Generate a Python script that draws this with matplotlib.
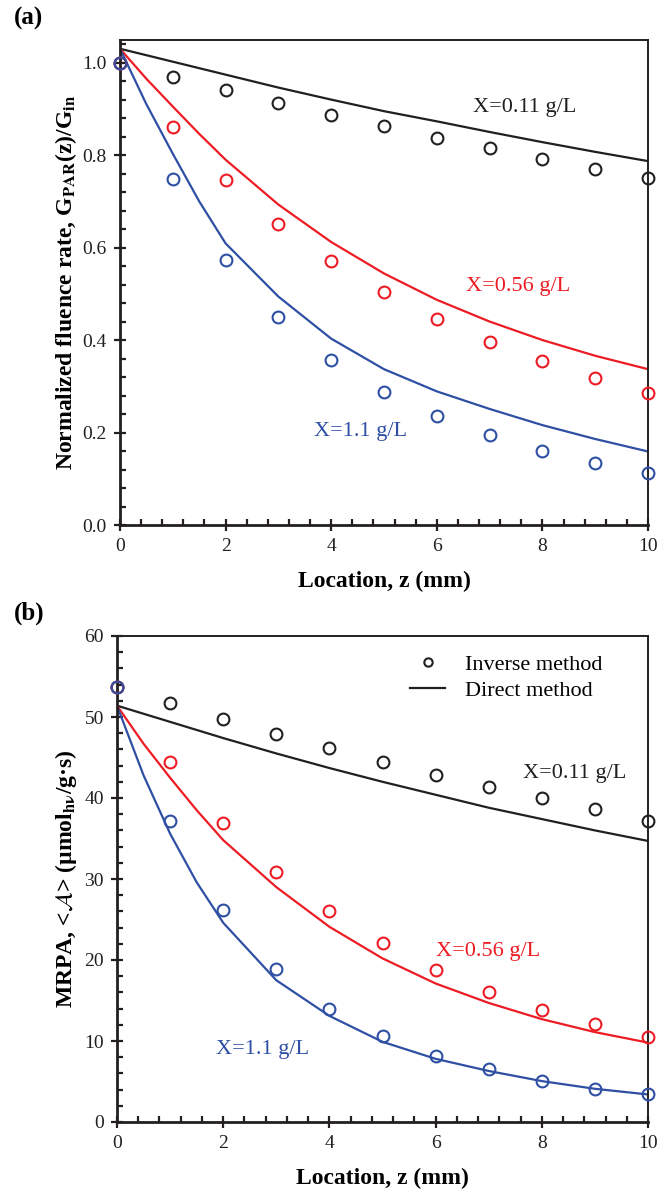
import numpy as np
import matplotlib
matplotlib.use('Agg')
import matplotlib.pyplot as plt
from matplotlib.ticker import MultipleLocator
from matplotlib.lines import Line2D

plt.rcParams['font.family'] = 'Liberation Serif'
plt.rcParams['mathtext.fontset'] = 'stix'

z_pts = [0, 1, 2, 3, 4, 5, 6, 7, 8, 9, 10]
z_line = [0, 0.5, 1, 1.5, 2, 3, 4, 5, 6, 7, 8, 9, 10]

# (a) normalized fluence rate
g_inv_011 = [1.0, 0.968, 0.940, 0.913, 0.887, 0.862, 0.838, 0.815, 0.792, 0.770, 0.750]
g_inv_056 = [1.0, 0.860, 0.746, 0.651, 0.571, 0.504, 0.446, 0.396, 0.354, 0.318, 0.286]
g_inv_11 = [1.0, 0.748, 0.573, 0.449, 0.357, 0.288, 0.235, 0.194, 0.161, 0.135, 0.113]
g_dir_011 = [1.03, 1.016, 1.002, 0.988, 0.974, 0.946, 0.920, 0.895, 0.873, 0.850, 0.828, 0.807, 0.787]
g_dir_056 = [1.03, 0.965, 0.905, 0.846, 0.790, 0.693, 0.612, 0.544, 0.487, 0.440, 0.400, 0.366, 0.337]
g_dir_11 = [1.03, 0.910, 0.803, 0.700, 0.609, 0.494, 0.403, 0.337, 0.289, 0.251, 0.216, 0.186, 0.159]

# (b) MRPA
a_inv_011 = [53.7, 51.7, 49.8, 47.9, 46.2, 44.5, 42.9, 41.4, 40.0, 38.6, 37.2]
a_inv_056 = [53.7, 44.4, 36.9, 30.9, 26.0, 22.1, 18.8, 16.1, 13.8, 12.1, 10.5]
a_inv_11 = [53.7, 37.1, 26.2, 18.9, 14.0, 10.6, 8.2, 6.5, 5.1, 4.1, 3.4]
a_dir_011 = [51.4, 50.4, 49.4, 48.4, 47.4, 45.5, 43.7, 42.0, 40.4, 38.8, 37.4, 36.0, 34.7]
a_dir_056 = [51.4, 46.7, 42.5, 38.5, 34.8, 29.0, 24.1, 20.2, 17.1, 14.7, 12.7, 11.1, 9.8]
a_dir_11 = [51.4, 42.8, 35.6, 29.6, 24.6, 17.5, 13.1, 9.9, 7.8, 6.3, 5.05, 4.1, 3.4]

labels = ['X=0.11 g/L', 'X=0.56 g/L', 'X=1.1 g/L']
colors = ['#231f20', '#ed1c24', '#2e4fa3']

fig = plt.figure(figsize=(6.58, 11.94), dpi=100)
ax1 = fig.add_axes([120/658, 1-525/1194, 528/658, (525-39.5)/1194])
ax2 = fig.add_axes([117/658, 1-1122/1194, 531/658, (1122-636)/1194])


def style(ax):
    ax.spines['left'].set_linewidth(2.0)
    ax.spines['bottom'].set_linewidth(2.0)
    ax.spines['top'].set_linewidth(1.4)
    ax.spines['right'].set_linewidth(1.4)
    for s in ax.spines.values():
        s.set_color('#231f20')
    ax.set_xlim(0, 10)
    ax.xaxis.set_major_locator(MultipleLocator(2))
    ax.xaxis.set_minor_locator(MultipleLocator(0.4))
    ax.tick_params(which='major', direction='inout', length=9, width=1.6,
                   labelsize=14, pad=5, colors='#231f20', labelcolor='#231f20')
    ax.tick_params(which='minor', direction='in', length=4, width=1.6, colors='#231f20')
    ax.tick_params(top=False, right=False, which='both')
    ax.set_xlabel('Location, z (mm)', fontsize=17, fontweight='bold')
    ax.xaxis.set_label_coords(0.5, -0.095)


def draw(ax, inv, dirs):
    for d, c in zip(dirs, colors):
        ax.plot(z_line, d, color=c, lw=1.6, zorder=2)
    for v, c in zip(inv, colors):
        ax.plot(z_pts, v, ls='none', marker='o', ms=8.5, mfc='none', mec=c, mew=1.5,
                clip_on=False, zorder=3)


style(ax1)
draw(ax1, [g_inv_011, g_inv_056, g_inv_11], [g_dir_011, g_dir_056, g_dir_11])
ax1.set_ylim(0, 1.05)
ax1.yaxis.set_major_locator(MultipleLocator(0.2))
ax1.yaxis.set_minor_locator(MultipleLocator(0.04))
ax1.yaxis.set_major_formatter(plt.FormatStrFormatter('%.1f'))
ax1.set_ylabel(r'Normalized fluence rate, G$_\mathbf{PAR}$(z)/G$_\mathbf{in}$',
               fontsize=17, fontweight='bold')
ax1.yaxis.set_label_coords(-0.078, 0.5)
ax1.text(6.69, 0.903, labels[0], color=colors[0], fontsize=16, va='center')
ax1.text(6.55, 0.515, labels[1], color=colors[1], fontsize=16, va='center')
ax1.text(3.67, 0.202, labels[2], color=colors[2], fontsize=16, va='center')

style(ax2)
draw(ax2, [a_inv_011, a_inv_056, a_inv_11], [a_dir_011, a_dir_056, a_dir_11])
ax2.set_ylim(0, 60)
ax2.yaxis.set_major_locator(MultipleLocator(10))
ax2.yaxis.set_minor_locator(MultipleLocator(2))
ax2.set_ylabel(r'MRPA, <$\mathcal{A}$> (µmol$_\mathbf{h\nu}$/g·s)', fontsize=17, fontweight='bold')
ax2.yaxis.set_label_coords(-0.072, 0.5)
ax2.text(7.64, 43.0, labels[0], color=colors[0], fontsize=16, va='center')
ax2.text(6.01, 21.1, labels[1], color=colors[1], fontsize=16, va='center')
ax2.text(1.86, 9.0, labels[2], color=colors[2], fontsize=16, va='center')

handles = [Line2D([], [], ls='none', marker='o', ms=6, mfc='none', mec='#231f20', mew=1.5),
           Line2D([], [], color='#231f20', lw=1.6)]
ax2.legend(handles, ['Inverse method', 'Direct method'], loc='upper right',
           bbox_to_anchor=(0.915, 0.963), frameon=False, fontsize=16,
           handlelength=1.6, handletextpad=0.9, borderpad=0, borderaxespad=0,
           labelspacing=0.25)

fig.text(14/658, 1-18/1194, '(a)', fontsize=18, fontweight='bold', va='center')
fig.text(14/658, 1-613/1194, '(b)', fontsize=18, fontweight='bold', va='center')

fig.savefig('out.png', dpi=100)
